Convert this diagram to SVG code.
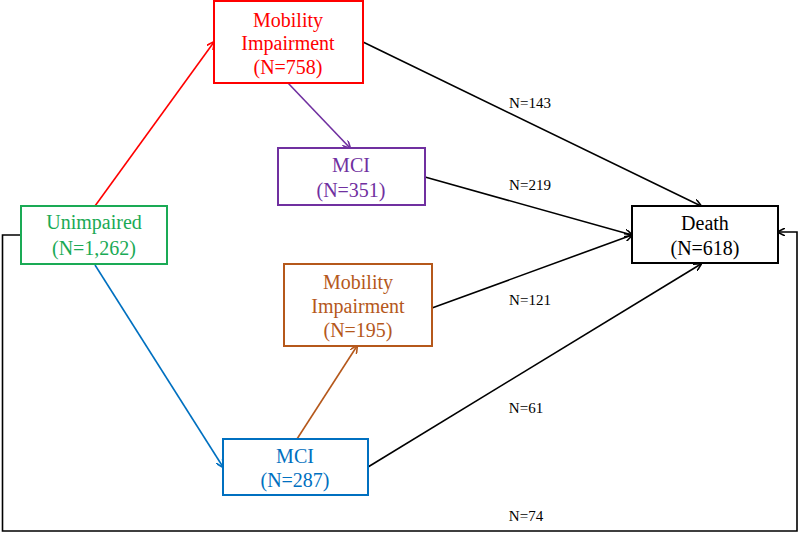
<svg xmlns="http://www.w3.org/2000/svg" width="800" height="533" viewBox="0 0 800 533">
<style>
.box{fill:#fff;stroke-width:2}
.t{font-family:'Liberation Serif','Times New Roman','DejaVu Serif',serif;font-size:20px;text-anchor:middle}
.lbl{font-family:'Liberation Serif','Times New Roman','DejaVu Serif',serif;font-size:15px;text-anchor:middle;fill:#000}
.c{fill:none;stroke-width:1.6}
</style>
<defs>
<marker id="aK" viewBox="0 0 10 10" refX="9" refY="5" markerWidth="8" markerHeight="8" markerUnits="userSpaceOnUse" orient="auto"><path d="M0,0 L10,5 L0,10" fill="none" stroke="#000" stroke-width="2"/></marker>
<marker id="aR" viewBox="0 0 10 10" refX="9" refY="5" markerWidth="8" markerHeight="8" markerUnits="userSpaceOnUse" orient="auto"><path d="M0,0 L10,5 L0,10" fill="none" stroke="#FF0000" stroke-width="2"/></marker>
<marker id="aB" viewBox="0 0 10 10" refX="9" refY="5" markerWidth="8" markerHeight="8" markerUnits="userSpaceOnUse" orient="auto"><path d="M0,0 L10,5 L0,10" fill="none" stroke="#0070C0" stroke-width="2"/></marker>
<marker id="aP" viewBox="0 0 10 10" refX="9" refY="5" markerWidth="8" markerHeight="8" markerUnits="userSpaceOnUse" orient="auto"><path d="M0,0 L10,5 L0,10" fill="none" stroke="#7030A0" stroke-width="2"/></marker>
<marker id="aO" viewBox="0 0 10 10" refX="9" refY="5" markerWidth="8" markerHeight="8" markerUnits="userSpaceOnUse" orient="auto"><path d="M0,0 L10,5 L0,10" fill="none" stroke="#B5581B" stroke-width="2"/></marker>
</defs>
<rect width="800" height="533" fill="#fff"/>
<g id="connectors">
<line class="c" x1="95" y1="206" x2="214" y2="42" stroke="#FF0000" marker-end="url(#aR)"/>
<line class="c" x1="95" y1="265" x2="223" y2="467" stroke="#0070C0" marker-end="url(#aB)"/>
<line class="c" x1="288" y1="83" x2="350" y2="148" stroke="#7030A0" marker-end="url(#aP)"/>
<line class="c" x1="297" y1="439" x2="357" y2="346" stroke="#B5581B" marker-end="url(#aO)"/>
<line class="c" x1="363" y1="42" x2="701" y2="206" stroke="#000" marker-end="url(#aK)"/>
<line class="c" x1="425" y1="177" x2="632" y2="235" stroke="#000" marker-end="url(#aK)"/>
<line class="c" x1="432" y1="308" x2="632" y2="235" stroke="#000" marker-end="url(#aK)"/>
<line class="c" x1="368" y1="467" x2="701" y2="264" stroke="#000" marker-end="url(#aK)"/>
<polyline class="c" points="21,235 2.5,235 2.5,531 797,531 797,232 778,232" stroke="#000" marker-end="url(#aK)"/>
<text class="lbl" x="530" y="108">N=143</text>
<text class="lbl" x="530" y="190">N=219</text>
<text class="lbl" x="530" y="305">N=121</text>
<text class="lbl" x="526" y="413">N=61</text>
<text class="lbl" x="526" y="521">N=74</text>
</g>
<g id="unimpaired">
<rect class="box" x="21" y="206" width="146" height="58" stroke="#1AAA55"/>
<text class="t" x="94" y="229" fill="#1AAA55">Unimpaired</text>
<text class="t" x="94" y="255" fill="#1AAA55">(N=1,262)</text>
</g>
<g id="mobility1">
<rect class="box" x="214" y="1" width="149" height="82" stroke="#FF0000"/>
<text class="t" x="288" y="27" fill="#FF0000">Mobility</text>
<text class="t" x="288" y="50" fill="#FF0000">Impairment</text>
<text class="t" x="288" y="74" fill="#FF0000">(N=758)</text>
</g>
<g id="mci1">
<rect class="box" x="278" y="148" width="147" height="57" stroke="#7030A0"/>
<text class="t" x="351" y="172" fill="#7030A0">MCI</text>
<text class="t" x="351" y="197" fill="#7030A0">(N=351)</text>
</g>
<g id="death">
<rect class="box" x="632" y="206" width="146" height="57" stroke="#000"/>
<text class="t" x="705" y="230" fill="#000">Death</text>
<text class="t" x="705" y="255" fill="#000">(N=618)</text>
</g>
<g id="mobility2">
<rect class="box" x="284" y="264" width="148" height="82" stroke="#B5581B"/>
<text class="t" x="358" y="289" fill="#B5581B">Mobility</text>
<text class="t" x="358" y="313" fill="#B5581B">Impairment</text>
<text class="t" x="358" y="337" fill="#B5581B">(N=195)</text>
</g>
<g id="mci2">
<rect class="box" x="223" y="439" width="145" height="56" stroke="#0070C0"/>
<text class="t" x="295" y="463" fill="#0070C0">MCI</text>
<text class="t" x="295" y="487" fill="#0070C0">(N=287)</text>
</g>
</svg>
